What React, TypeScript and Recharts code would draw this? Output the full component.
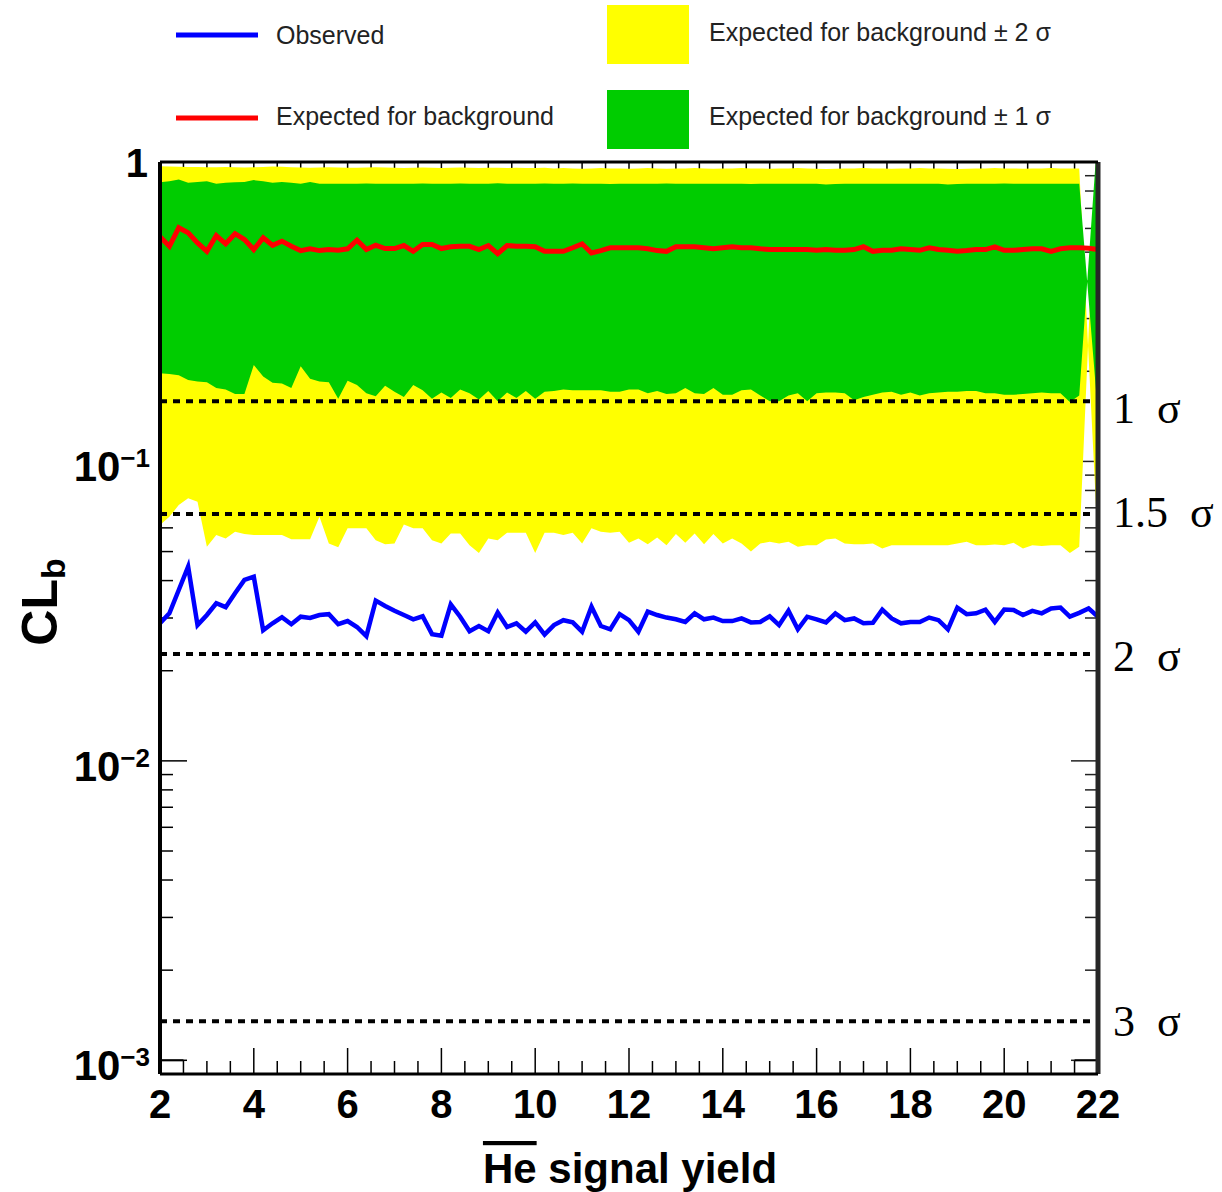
import React from 'react';
import { ComposedChart, Area, Line, XAxis, YAxis, ReferenceLine, Legend } from 'recharts';

// ---------------- data ----------------
const X = [
  2.0, 2.2, 2.4, 2.6, 2.8, 3.0, 3.2, 3.4, 3.6, 3.8, 4.0, 4.2, 4.4, 4.6, 4.8, 5.0, 5.2, 5.4, 5.6, 5.8,
  6.0, 6.2, 6.4, 6.6, 6.8, 7.0, 7.2, 7.4, 7.6, 7.8, 8.0, 8.2, 8.4, 8.6, 8.8, 9.0, 9.2, 9.4, 9.6, 9.8,
  10.0, 10.2, 10.4, 10.6, 10.8, 11.0, 11.2, 11.4, 11.6, 11.8, 12.0, 12.2, 12.4, 12.6, 12.8, 13.0, 13.2, 13.4, 13.6, 13.8,
  14.0, 14.2, 14.4, 14.6, 14.8, 15.0, 15.2, 15.4, 15.6, 15.8, 16.0, 16.2, 16.4, 16.6, 16.8, 17.0, 17.2, 17.4, 17.6, 17.8,
  18.0, 18.2, 18.4, 18.6, 18.8, 19.0, 19.2, 19.4, 19.6, 19.8, 20.0, 20.2, 20.4, 20.6, 20.8, 21.0, 21.2, 21.4, 21.6, 21.8,
  22.0,
];

const OBSERVED = [
  0.0288, 0.0311, 0.0372, 0.0445, 0.0284, 0.0307, 0.0336, 0.0326, 0.0363, 0.0402,
  0.0412, 0.0273, 0.0288, 0.0302, 0.0286, 0.0303, 0.0300, 0.0307, 0.0309, 0.0286,
  0.0293, 0.0280, 0.0261, 0.0343, 0.0329, 0.0317, 0.0307, 0.0297, 0.0304, 0.0265,
  0.0262, 0.0333, 0.0303, 0.0271, 0.0282, 0.0271, 0.0313, 0.0280, 0.0288, 0.0270,
  0.0290, 0.0264,
  0.0284, 0.0295, 0.0290, 0.0270, 0.0327, 0.0282, 0.0275, 0.0309, 0.0295, 0.0270,
  0.0315, 0.0307, 0.0301, 0.0297, 0.0291, 0.0311, 0.0297, 0.0301, 0.0293, 0.0293,
  0.0299, 0.0290, 0.0291, 0.0304, 0.0284, 0.0317, 0.0275, 0.0303, 0.0297, 0.0290,
  0.0311, 0.0295, 0.0299, 0.0288, 0.0289, 0.0320, 0.0299, 0.0288, 0.0291, 0.0291,
  0.0301, 0.0295, 0.0275, 0.0325, 0.0309, 0.0311, 0.0320, 0.0291, 0.0320, 0.0319,
  0.0307, 0.0317, 0.0311, 0.0323, 0.0325, 0.0303, 0.0312, 0.0323, 0.0303,
];

const EXPECTED = [
  0.563, 0.523, 0.603, 0.580, 0.537, 0.503, 0.568, 0.533, 0.576, 0.551,
  0.510, 0.558, 0.527, 0.544, 0.523, 0.506, 0.513, 0.506, 0.510, 0.507,
  0.513, 0.548, 0.510, 0.527, 0.514, 0.514, 0.526, 0.503, 0.530, 0.530,
  0.514, 0.521, 0.523, 0.523, 0.510, 0.526, 0.494, 0.526, 0.523, 0.523,
  0.521, 0.503,
  0.503, 0.503, 0.517, 0.533, 0.497, 0.506, 0.517, 0.517, 0.517, 0.517,
  0.513, 0.506, 0.503, 0.521, 0.521, 0.521, 0.517, 0.513, 0.517, 0.521,
  0.517, 0.517, 0.513, 0.510, 0.510, 0.510, 0.510, 0.510, 0.507, 0.510,
  0.507, 0.507, 0.510, 0.521, 0.503, 0.507, 0.507, 0.513, 0.510, 0.507,
  0.517, 0.510, 0.507, 0.503, 0.506, 0.510, 0.510, 0.521, 0.507, 0.507,
  0.510, 0.513, 0.513, 0.503, 0.513, 0.517, 0.517, 0.515, 0.510,
];

const GREEN_HI = [
  0.856, 0.862, 0.874, 0.852, 0.858, 0.862, 0.846, 0.852, 0.856, 0.858,
  0.870, 0.862, 0.852, 0.858, 0.852, 0.846, 0.858, 0.846, 0.846, 0.846,
  0.846, 0.846, 0.848, 0.846, 0.846, 0.846, 0.846, 0.846, 0.848, 0.846,
  0.846, 0.846, 0.848, 0.846, 0.846, 0.846, 0.850, 0.846, 0.846, 0.846,
  0.846, 0.848,
  0.846, 0.846, 0.848, 0.846, 0.846, 0.846, 0.844, 0.846, 0.846, 0.846,
  0.846, 0.846, 0.848, 0.846, 0.846, 0.846, 0.846, 0.846, 0.846, 0.846,
  0.846, 0.844, 0.846, 0.846, 0.846, 0.846, 0.846, 0.846, 0.846, 0.841,
  0.844, 0.846, 0.846, 0.846, 0.846, 0.846, 0.846, 0.846, 0.846, 0.846,
  0.846, 0.846, 0.841, 0.844, 0.846, 0.846, 0.846, 0.846, 0.848, 0.846,
  0.846, 0.846, 0.846, 0.846, 0.846, 0.846, 0.846,
  null, 0.143,
];

const GREEN_LO = [
  0.197, 0.196, 0.194, 0.187, 0.185, 0.184, 0.176, 0.174, 0.168, 0.168,
  0.210, 0.192, 0.183, 0.182, 0.176, 0.208, 0.189, 0.185, 0.184, 0.162,
  0.186, 0.180, 0.169, 0.165, 0.179, 0.171, 0.164, 0.180, 0.173, 0.162,
  0.170, 0.163, 0.174, 0.169, 0.161, 0.172, 0.159, 0.170, 0.163, 0.172,
  0.162, 0.171,
  0.172, 0.174, 0.173, 0.173, 0.173, 0.173, 0.171, 0.171, 0.174, 0.174,
  0.169, 0.172, 0.168, 0.169, 0.176, 0.169, 0.168, 0.176, 0.167, 0.167,
  0.173, 0.174, 0.166, 0.159, 0.159, 0.166, 0.169, 0.159, 0.169, 0.170,
  0.170, 0.169, 0.160, 0.164, 0.167, 0.170, 0.171, 0.167, 0.170, 0.166,
  0.169, 0.170, 0.171, 0.171, 0.172, 0.172, 0.169, 0.169, 0.167, 0.167,
  0.168, 0.169, 0.170, 0.169, 0.169, 0.158, 0.166,
  null, 1.3,
];

const YELLOW_HI = [
  0.968, 0.966, 0.964, 0.962, 0.962, 0.960, 0.960, 0.962, 0.960, 0.958,
  0.960, 0.962, 0.966, 0.964, 0.960, 0.958, 0.956, 0.958, 0.960, 0.958,
  0.956, 0.956, 0.958, 0.960, 0.958, 0.956, 0.954, 0.956, 0.958, 0.956,
  0.954, 0.956, 0.958, 0.956, 0.954, 0.956, 0.956, 0.954, 0.956, 0.954,
  0.954, 0.956,
  0.952, 0.954, 0.952, 0.950, 0.952, 0.954, 0.952, 0.952, 0.950, 0.952,
  0.954, 0.952, 0.950, 0.952, 0.952, 0.954, 0.952, 0.950, 0.952, 0.952,
  0.954, 0.952, 0.952, 0.950, 0.952, 0.952, 0.954, 0.952, 0.950, 0.948,
  0.950, 0.952, 0.952, 0.954, 0.952, 0.952, 0.950, 0.952, 0.952, 0.954,
  0.952, 0.952, 0.950, 0.948, 0.950, 0.952, 0.952, 0.954, 0.952, 0.952,
  0.950, 0.952, 0.952, 0.954, 0.952, 0.952, 0.952,
  null, 0.052,
];

const YELLOW_LO = [
  0.0613, 0.0653, 0.0715, 0.0753, 0.0733, 0.0519, 0.0568, 0.0553, 0.0582, 0.0572,
  0.0568, 0.0568, 0.0568, 0.0568, 0.0550, 0.0550, 0.0550, 0.0653, 0.0532, 0.0517,
  0.0598, 0.0598, 0.0598, 0.0546, 0.0529, 0.0532, 0.0616, 0.0598, 0.0598, 0.0546,
  0.0532, 0.0575, 0.0575, 0.0525, 0.0495, 0.0553, 0.0546, 0.0578, 0.0578, 0.0578,
  0.0495, 0.0578,
  0.0578, 0.0568, 0.0578, 0.0532, 0.0598, 0.0582, 0.0578, 0.0582, 0.0535, 0.0553,
  0.0529, 0.0557, 0.0525, 0.0572, 0.0535, 0.0575, 0.0529, 0.0572, 0.0532, 0.0553,
  0.0532, 0.0500, 0.0532, 0.0539, 0.0532, 0.0539, 0.0519, 0.0525, 0.0525, 0.0549,
  0.0553, 0.0532, 0.0529, 0.0529, 0.0532, 0.0512, 0.0525, 0.0525, 0.0525, 0.0525,
  0.0525, 0.0525, 0.0525, 0.0532, 0.0539, 0.0525, 0.0525, 0.0528, 0.0525, 0.0535,
  0.0512, 0.0525, 0.0522, 0.0525, 0.0525, 0.0495, 0.0519,
  null, 1.4,
];

const SIGMA_P = [0.1587, 0.0668, 0.02275, 0.00135];
const SIGMA_LABELS = ['1\u2002σ', '1.5\u2002σ', '2\u2002σ', '3\u2002σ'];

const X_TICKS = [
  2, 2.5, 3, 3.5, 4, 4.5, 5, 5.5, 6, 6.5, 7, 7.5, 8, 8.5, 9, 9.5, 10, 10.5, 11, 11.5,
  12, 12.5, 13, 13.5, 14, 14.5, 15, 15.5, 16, 16.5, 17, 17.5, 18, 18.5, 19, 19.5, 20, 20.5, 21, 21.5, 22,
];
const Y_TICKS = [
  0.001, 0.002, 0.003, 0.004, 0.005, 0.006, 0.007, 0.008, 0.009,
  0.01, 0.02, 0.03, 0.04, 0.05, 0.06, 0.07, 0.08, 0.09,
  0.1, 0.2, 0.3, 0.4, 0.5, 0.6, 0.7, 0.8, 0.9, 1,
];

const LEGEND_ITEMS = [
  { label: 'Observed', kind: 'line', color: '#0000ff' },
  { label: 'Expected for background', kind: 'line', color: '#ff0000' },
  { label: 'Expected for background ± 2 σ', kind: 'box', color: '#ffff00' },
  { label: 'Expected for background ± 1 σ', kind: 'box', color: '#00cc00' },
];

const rows = X.map((x, i) => ({
  x,
  obs: OBSERVED[i],
  exp: EXPECTED[i],
  gLo: GREEN_LO[i],
  gHi: GREEN_HI[i],
  yLo: YELLOW_LO[i],
  yHi: YELLOW_HI[i],
}));

// ---------------- layout ----------------
const W = 1222;
const H = 1192;
const PLOT = { left: 160, right: 1098, top: 162, bottom: 1074 };
const X_AXIS_H = 60;
const Y_AXIS_W = 60;
const MARGIN = {
  top: PLOT.top,
  right: W - PLOT.right,
  bottom: H - PLOT.bottom - X_AXIS_H,
  left: PLOT.left - Y_AXIS_W,
};
const SANS = '"Liberation Sans", Arial, Helvetica, sans-serif';
const SERIF = '"Liberation Serif", "Times New Roman", serif';
const SIGMA_DY = [22, 13, 17, 15];

function XTick(props: any) {
  const { payload } = props;
  const x = payload.coordinate;
  const v = payload.value;
  const major = Math.abs(v / 2 - Math.round(v / 2)) < 1e-6;
  const len = major ? 26 : 13;
  return (
    <g>
      <line x1={x} x2={x} y1={PLOT.bottom} y2={PLOT.bottom - len} stroke="#000" strokeWidth={1.5} />
      <line x1={x} x2={x} y1={PLOT.top} y2={PLOT.top + len} stroke="#000" strokeWidth={1.5} />
      {major && (
        <text x={x} y={1118} textAnchor="middle" fontSize={40} fontWeight="bold" fontFamily={SANS} fill="#000">
          {v}
        </text>
      )}
    </g>
  );
}

function YTick(props: any) {
  const { payload } = props;
  const y = payload.coordinate;
  const v = payload.value;
  const lg = Math.log10(v);
  const exp = Math.round(lg);
  const major = Math.abs(lg - exp) < 1e-6;
  const len = major ? 27 : 13;
  let label = null;
  if (major) {
    if (exp === 0) {
      label = (
        <text x={148} y={y + 15} textAnchor="end" fontSize={40} fontWeight="bold" fontFamily={SANS} fill="#000">
          1
        </text>
      );
    } else {
      label = (
        <text x={150} y={y + 20} textAnchor="end" fontWeight="bold" fontFamily={SANS} fill="#000">
          <tspan fontSize={42}>10</tspan>
          <tspan fontSize={26} dy={-14}>{'\u2212' + String(-exp)}</tspan>
        </text>
      );
    }
  }
  return (
    <g>
      <line x1={PLOT.left} x2={PLOT.left + len} y1={y} y2={y} stroke="#000" strokeWidth={1.5} />
      <line x1={PLOT.right - len} x2={PLOT.right} y1={y} y2={y} stroke="#222" strokeWidth={1.5} />
      {label}
    </g>
  );
}

function LegendContent() {
  const pos = [
    { x: 176, y: 35, tx: 276, ty: 44 },
    { x: 176, y: 118, tx: 276, ty: 125 },
    { x: 607, y: 5, tx: 709, ty: 41 },
    { x: 607, y: 90, tx: 709, ty: 125 },
  ];
  return (
    <svg width={W} height={160} style={{ display: 'block' }}>
      {LEGEND_ITEMS.map((it, i) => {
        const p = pos[i];
        return (
          <g key={it.label}>
            {it.kind === 'line' ? (
              <line x1={p.x} x2={p.x + 82} y1={p.y} y2={p.y} stroke={it.color} strokeWidth={5} />
            ) : (
              <rect x={p.x} y={p.y} width={82} height={59} fill={it.color} />
            )}
            <text x={p.tx} y={p.ty} fontSize={25} fontFamily={SANS} fill="#222">
              {it.label}
            </text>
          </g>
        );
      })}
    </svg>
  );
}

const xTitle = () => (
  <text x={630} y={1183} textAnchor="middle" fontSize={42} fontWeight="bold" fontFamily={SANS} fill="#000">
    <tspan style={{ textDecoration: 'overline' }}>He</tspan> signal yield
  </text>
);

const yTitle = () => (
  <text
    transform="translate(57,602) rotate(-90)"
    textAnchor="middle"
    fontSize={50}
    fontWeight="bold"
    fontFamily={SANS}
    fill="#000"
  >
    CL<tspan fontSize={34} dy={8}>b</tspan>
  </text>
);

// Bottom layer: frame ticks, tick labels, axis titles and legend
function AxesLayer() {
  return (
    <ComposedChart width={W} height={H} data={rows} margin={MARGIN}>
      <XAxis
        dataKey="x"
        type="number"
        domain={[2, 22]}
        ticks={X_TICKS}
        interval={0}
        height={X_AXIS_H}
        tickSize={0}
        tickMargin={0}
        tickLine={false}
        axisLine={false}
        tick={(p: any) => <XTick {...p} />}
        label={{ content: xTitle }}
        allowDataOverflow
      />
      <YAxis
        type="number"
        scale="log"
        domain={[0.0009, 1]}
        ticks={Y_TICKS}
        interval={0}
        width={Y_AXIS_W}
        tickSize={0}
        tickMargin={0}
        tickLine={false}
        axisLine={false}
        tick={(p: any) => <YTick {...p} />}
        label={{ content: yTitle }}
        allowDataOverflow
      />
      <Line dataKey="obs" stroke="none" dot={false} activeDot={false} isAnimationActive={false} legendType="none" />
      <Legend
        content={() => <LegendContent />}
        layout="horizontal"
        verticalAlign="middle"
        align="center"
        wrapperStyle={{ top: 0, left: 0, width: W, height: 160 }}
      />
    </ComposedChart>
  );
}

// Top layer: bands, curves, sigma lines and frame (drawn over the ticks, like the original)
function DataLayer() {
  return (
    <ComposedChart width={W} height={H} data={rows} margin={MARGIN}>
      <XAxis
        dataKey="x"
        type="number"
        domain={[2, 22]}
        height={X_AXIS_H}
        tick={false}
        tickLine={false}
        axisLine={false}
        allowDataOverflow
      />
      <YAxis
        type="number"
        scale="log"
        domain={[0.0009, 1]}
        width={Y_AXIS_W}
        tick={false}
        tickLine={false}
        axisLine={false}
        allowDataOverflow
      />
      <Area
        type="linear"
        dataKey={(d: any) => [d.yLo, d.yHi]}
        fill="#ffff00"
        fillOpacity={1}
        stroke="none"
        connectNulls
        activeDot={false}
        isAnimationActive={false}
      />
      <Area
        type="linear"
        dataKey={(d: any) => [d.gLo, d.gHi]}
        fill="#00cc00"
        fillOpacity={1}
        stroke="none"
        connectNulls
        activeDot={false}
        isAnimationActive={false}
      />
      {SIGMA_P.map((p, i) => (
        <ReferenceLine
          key={SIGMA_LABELS[i]}
          y={p}
          stroke="#000"
          strokeWidth={4}
          strokeDasharray="7 6"
          label={{
            content: (lp: any) => {
              const vb = lp.viewBox || {};
              return (
                <text x={PLOT.right + 15} y={(vb.y ?? 0) + SIGMA_DY[i]} fontSize={44} fontFamily={SERIF} fill="#000">
                  {SIGMA_LABELS[i]}
                </text>
              );
            },
          }}
        />
      ))}
      <Line
        type="linear"
        dataKey="exp"
        stroke="#ff0000"
        strokeWidth={5}
        dot={false}
        activeDot={false}
        isAnimationActive={false}
      />
      <Line
        type="linear"
        dataKey="obs"
        stroke="#0000ff"
        strokeWidth={4.5}
        dot={false}
        activeDot={false}
        isAnimationActive={false}
      />
      <ReferenceLine segment={[{ x: 2, y: 0.001 }, { x: 2.5, y: 0.001 }]} stroke="#000" strokeWidth={2} />
      <ReferenceLine segment={[{ x: 21.5, y: 0.001 }, { x: 22, y: 0.001 }]} stroke="#000" strokeWidth={2} />
      <ReferenceLine x={2} stroke="#000" strokeWidth={4} />
      <ReferenceLine x={22} stroke="#262626" strokeWidth={5} />
      <ReferenceLine y={1} stroke="#000" strokeWidth={3} />
      <ReferenceLine y={0.0009} stroke="#000" strokeWidth={3} />
    </ComposedChart>
  );
}

export default function App() {
  return (
    <div style={{ position: 'absolute', left: 0, top: 0, width: W, height: H, background: '#fff' }}>
      <div style={{ position: 'absolute', left: 0, top: 0 }}>
        <AxesLayer />
      </div>
      <div style={{ position: 'absolute', left: 0, top: 0, pointerEvents: 'none' }}>
        <DataLayer />
      </div>
    </div>
  );
}
